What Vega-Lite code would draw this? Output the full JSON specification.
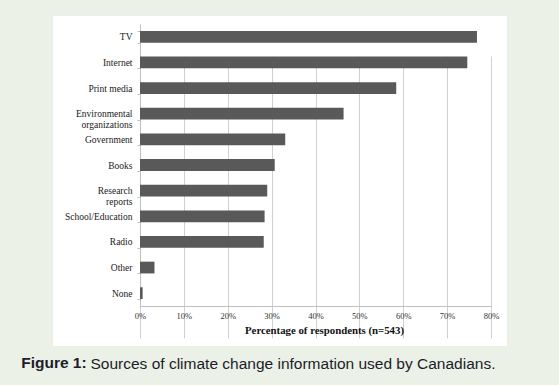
{
  "$schema": "https://vega.github.io/schema/vega-lite/v6.json",
  "width": 454,
  "height": 330,
  "autosize": {"type": "none"},
  "padding": {"left": 53, "top": 16, "right": 52, "bottom": 39},
  "background": "#ebf1e6",
  "title": {
    "text": "Sources of climate change information used by Canadians.",
    "orient": "bottom",
    "anchor": "start",
    "frame": "group",
    "dx": 37.5,
    "offset": -14,
    "font": "Liberation Sans",
    "fontSize": 15.5,
    "fontWeight": "normal",
    "color": "#1c1c2a"
  },
  "data": {
    "values": [
      {"source": "TV", "pct": 76.8},
      {"source": "Internet", "pct": 74.6},
      {"source": "Print media", "pct": 58.4},
      {"source": "Environmental organizations", "pct": 46.4},
      {"source": "Government", "pct": 33.1},
      {"source": "Books", "pct": 30.7},
      {"source": "Research reports", "pct": 29.0},
      {"source": "School/Education", "pct": 28.4},
      {"source": "Radio", "pct": 28.2},
      {"source": "Other", "pct": 3.3},
      {"source": "None", "pct": 0.6}
    ]
  },
  "mark": {"type": "bar", "color": "#595959"},
  "encoding": {
    "y": {
      "field": "source",
      "type": "nominal",
      "sort": null,
      "scale": {"range": [8, 290], "paddingInner": 0.54, "paddingOuter": 0.27},
      "axis": {
        "title": "Figure 1:",
        "titleAngle": 0,
        "titleAlign": "left",
        "titleBaseline": "alphabetic",
        "titleX": -119.3,
        "titleY": 351,
        "titleFont": "Liberation Sans",
        "titleFontSize": 15.5,
        "titleFontWeight": "bold",
        "titleColor": "#1c1c2a",
        "offset": -87,
        "grid": false,
        "domainColor": "#bfbfbf",
        "tickColor": "#bfbfbf",
        "tickSize": 3,
        "tickBand": "extent",
        "labelFont": "Liberation Serif",
        "labelFontSize": 9.5,
        "labelColor": "#1a1a1a",
        "labelPadding": 5,
        "labelLineHeight": 11,
        "labelExpr": "datum.label == 'Environmental organizations' ? ['Environmental','organizations'] : datum.label == 'Research reports' ? ['Research','reports'] : datum.label"
      }
    },
    "x": {
      "field": "pct",
      "type": "quantitative",
      "scale": {"domain": [0, 80], "range": [87, 438], "nice": false},
      "axis": {
        "title": "Percentage of respondents (n=543)",
        "offset": -40,
        "values": [0, 10, 20, 30, 40, 50, 60, 70, 80],
        "labelExpr": "datum.value + '%'",
        "labelFlush": false,
        "grid": true,
        "gridColor": "#d0d0d0",
        "domainColor": "#bfbfbf",
        "ticks": false,
        "labelFont": "Liberation Serif",
        "labelFontSize": 8.5,
        "labelColor": "#333333",
        "labelPadding": 5,
        "titleFont": "Liberation Serif",
        "titleFontSize": 10.8,
        "titleFontWeight": "bold",
        "titleColor": "#111111",
        "titlePadding": 5,
        "titleX": 271
      }
    }
  },
  "config": {
    "view": {"stroke": null, "fill": "white"}
  }
}
